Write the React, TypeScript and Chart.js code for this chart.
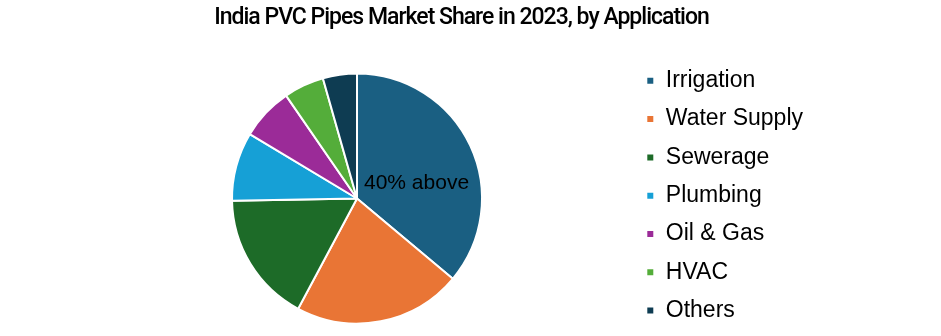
import React, { useEffect, useRef } from "react";
import { Chart, registerables } from "chart.js";

Chart.register(...registerables);

const TITLE = "India PVC Pipes Market Share in 2023, by Application";
const CATEGORIES = ["Irrigation", "Water Supply", "Sewerage", "Plumbing", "Oil & Gas", "HVAC", "Others"];
const SHARES = [36.1, 21.7, 16.9, 8.9, 6.8, 5.2, 4.4];
const COLORS = ["#1a5f82", "#e97535", "#1d6b28", "#16a0d6", "#9b2b98", "#54ad3a", "#0e3c52"];
const SLICE_LABEL = "40% above";

const titlePlugin = {
  id: "customTitle",
  afterDraw(chart: any) {
    const ctx = chart.ctx;
    ctx.save();
    ctx.font = '500 23px Roboto, "Liberation Sans", Arial, sans-serif';
    try { (ctx as any).letterSpacing = "-1px"; } catch (e) {}
    ctx.fillStyle = "#000";
    ctx.textAlign = "center";
    ctx.textBaseline = "middle";
    ctx.fillText(TITLE, chart.width / 2 - 9, 18);
    ctx.restore();
  },
};

const sliceLabelPlugin = {
  id: "sliceLabel",
  afterDatasetsDraw(chart: any) {
    const arc = chart.getDatasetMeta(0).data[0];
    if (!arc) return;
    const ctx = chart.ctx;
    ctx.save();
    ctx.font = '21px "Liberation Sans", Arial, sans-serif';
    ctx.fillStyle = "#000";
    ctx.textAlign = "left";
    ctx.textBaseline = "middle";
    ctx.fillText(SLICE_LABEL, arc.x + 7, arc.y - 15);
    ctx.restore();
  },
};

export default function App() {
  const ref = useRef<HTMLCanvasElement | null>(null);
  useEffect(() => {
    if (!ref.current) return;
    const chart = new Chart(ref.current, {
      type: "pie",
      data: {
        labels: CATEGORIES,
        datasets: [
          {
            data: SHARES,
            backgroundColor: COLORS,
            borderColor: "#ffffff",
            borderWidth: 2,
            radius: 125,
          } as any,
        ],
      },
      options: {
        responsive: false,
        animation: false,
        layout: { padding: { left: 83, right: 128, top: 54, bottom: 0 } },
        plugins: {
          title: { display: false },
          tooltip: { enabled: false },
          legend: {
            position: "right",
            align: "start",
            labels: {
              boxWidth: 8,
              boxHeight: 8,
              padding: 15.3,
              color: "#000",
              font: { family: '"Liberation Sans", Arial, sans-serif', size: 23 },
            },
          },
        },
      },
      plugins: [titlePlugin, sliceLabelPlugin],
    });
    return () => chart.destroy();
  }, []);
  return (
    <div style={{ position: "absolute", left: 0, top: 0, width: 941, height: 336, overflow: "hidden", background: "#fff" }}>
      <canvas ref={ref} width={941} height={343} style={{ display: "block" }} />
    </div>
  );
}
